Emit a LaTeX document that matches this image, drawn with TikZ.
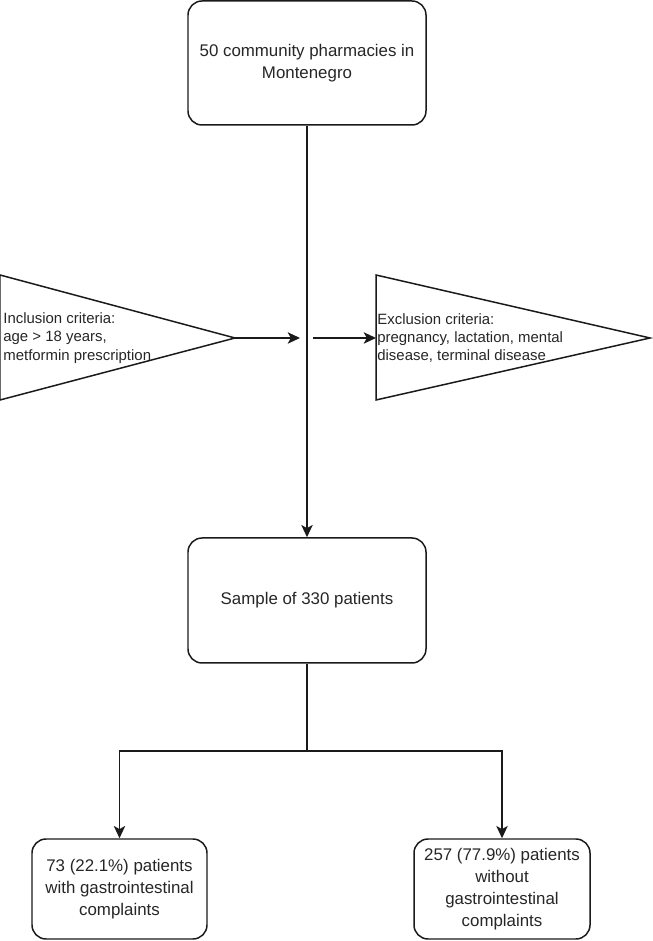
\documentclass[tikz,border=0pt]{standalone}
\usepackage{fontspec}
\setmainfont{Liberation Sans}
\usepackage{tikz}
\usetikzlibrary{positioning,arrows.meta}
\definecolor{linecolor}{HTML}{1A1A1A}
\definecolor{textcolor}{HTML}{262626}

\begin{document}
\begin{tikzpicture}[
    every node/.style={font=\fontsize{9.6}{12.5}\selectfont, text=textcolor},
    stagebox/.style={draw=linecolor, line width=0.85pt, rounded corners=8pt, align=center, inner sep=2pt},
    critshape/.style={draw=linecolor, line width=0.85pt},
    critnote/.style={font=\fontsize{8.5}{10.4}\selectfont, align=left, anchor=west, inner sep=0pt},
    link/.style={draw=linecolor, line width=0.85pt},
    flow/.style={link, -{Stealth[length=7pt, width=6.5pt, inset=1.8pt]}}
]
    % Canvas (653 x 941 px, 50 px = 1 cm)
    \useasboundingbox (0,0) rectangle (13.06,18.82);

    % Main column
    \node[stagebox, minimum width=4.76cm, minimum height=2.48cm] (pharm) at (6.14,17.56) {50 community pharmacies in\\Montenegro};
    \node[stagebox, minimum width=4.76cm, minimum height=2.5cm] (sample) at (6.14,6.81) {Sample of 330 patients};

    % Outcome boxes
    \node[stagebox, minimum width=3.5cm, minimum height=2.0cm] (gi) at (2.39,1.04) {73 (22.1\%) patients\\with gastrointestinal\\complaints};
    \node[stagebox, minimum width=3.52cm, minimum height=2.0cm] (nogi) at (10.04,1.04) {257 (77.9\%) patients\\without\\gastrointestinal\\complaints};

    % Inclusion criteria (left triangle)
    \coordinate (inclA) at (0,13.32);
    \coordinate (inclB) at (0,10.82);
    \coordinate (incltip) at (4.7,12.06);
    \draw[critshape] (inclA) -- (incltip) -- (inclB) -- cycle;
    \node[critnote] (incltext) at (0.06,12.06) {Inclusion criteria:\\age > 18 years,\\metformin prescription};

    % Exclusion criteria (right triangle)
    \coordinate (exclA) at (7.52,13.32);
    \coordinate (exclB) at (7.52,10.82);
    \coordinate (excltip) at (13.0,12.06);
    \coordinate (exclbase) at (7.52,12.06);
    \draw[critshape] (exclA) -- (excltip) -- (exclB) -- cycle;
    \node[critnote] (excltext) at (7.54,12.06) {Exclusion criteria:\\pregnancy, lactation, mental\\disease, terminal disease};

    % Connectors
    \coordinate (joinL) at (6.0,12.06);
    \coordinate (joinR) at (6.26,12.06);
    \coordinate (split) at (6.14,3.8);
    \draw[flow] (pharm) -- (sample);
    \draw[flow] (incltip) -- (joinL);
    \draw[flow] (joinR) -- (exclbase);
    \draw[link] (sample.south) -- (split);
    \draw[flow] (split) -| (gi.north);
    \draw[flow] (split) -| (nogi.north);
\end{tikzpicture}
\end{document}
